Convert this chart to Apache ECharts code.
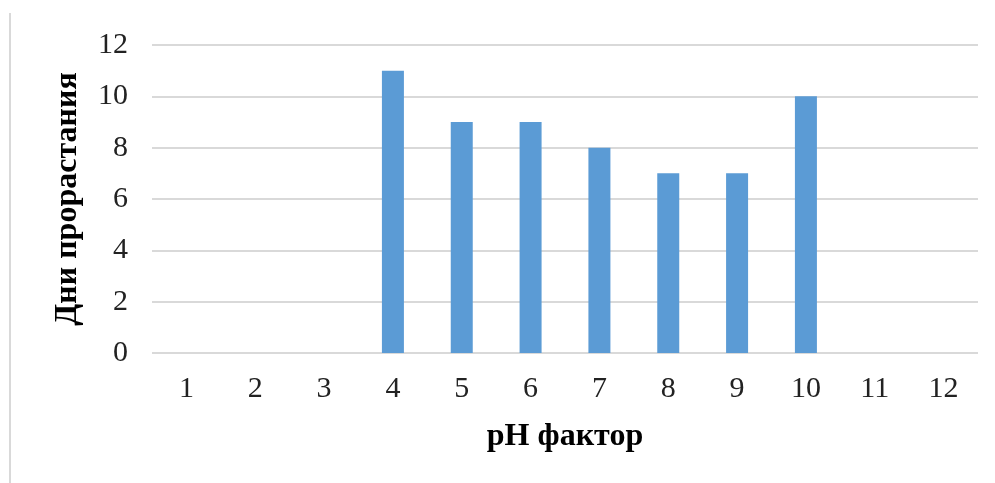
<!DOCTYPE html>
<html>
<head>
<meta charset="utf-8">
<script src="https://cdn.jsdelivr.net/npm/echarts@6/dist/echarts.min.js"></script>
<style>
  html, body { margin: 0; padding: 0; background: #fff; }
  #chart { width: 995px; height: 483px; }
</style>
</head>
<body>
<div id="chart"></div>
<script>
const categories = ['1', '2', '3', '4', '5', '6', '7', '8', '9', '10', '11', '12']
const days = [null, null, null, 11, 9, 9, 8, 7, 7, 10, null, null]
const yTicks = { min: 0, max: 12, interval: 2 }

const font = '"Liberation Serif", "Times New Roman", serif'
const chart = echarts.init(document.getElementById('chart'))

chart.setOption({
  animation: false,
  grid: { left: 152, right: 17, top: 45, bottom: 130 },
  graphic: [
    {
      // thin frame line on the left edge
      type: 'line',
      shape: { x1: 10, y1: 13, x2: 10, y2: 483 },
      style: { stroke: '#d9d9d9', lineWidth: 2 }
    }
  ],
  xAxis: {
    type: 'category',
    data: categories,
    name: 'pH фактор',
    nameLocation: 'middle',
    nameGap: 68,
    nameTextStyle: { fontFamily: font, fontSize: 32, fontWeight: 'bold', color: '#000' },
    axisLine: { show: false },
    axisTick: { show: false },
    axisLabel: { fontFamily: font, fontSize: 30, color: '#222', margin: 21 }
  },
  yAxis: {
    type: 'value',
    min: yTicks.min,
    max: yTicks.max,
    interval: yTicks.interval,
    name: 'Дни прорастания',
    nameLocation: 'middle',
    nameGap: 68,
    nameTextStyle: { fontFamily: font, fontSize: 32, fontWeight: 'bold', color: '#000' },
    axisLine: { show: false },
    axisTick: { show: false },
    axisLabel: { fontFamily: font, fontSize: 30, color: '#222', margin: 24 },
    splitLine: { lineStyle: { color: '#d9d9d9', width: 2 } }
  },
  series: [
    {
      type: 'bar',
      data: days,
      barWidth: 22,
      itemStyle: { color: '#5b9bd5' }
    }
  ]
})
</script>
</body>
</html>
